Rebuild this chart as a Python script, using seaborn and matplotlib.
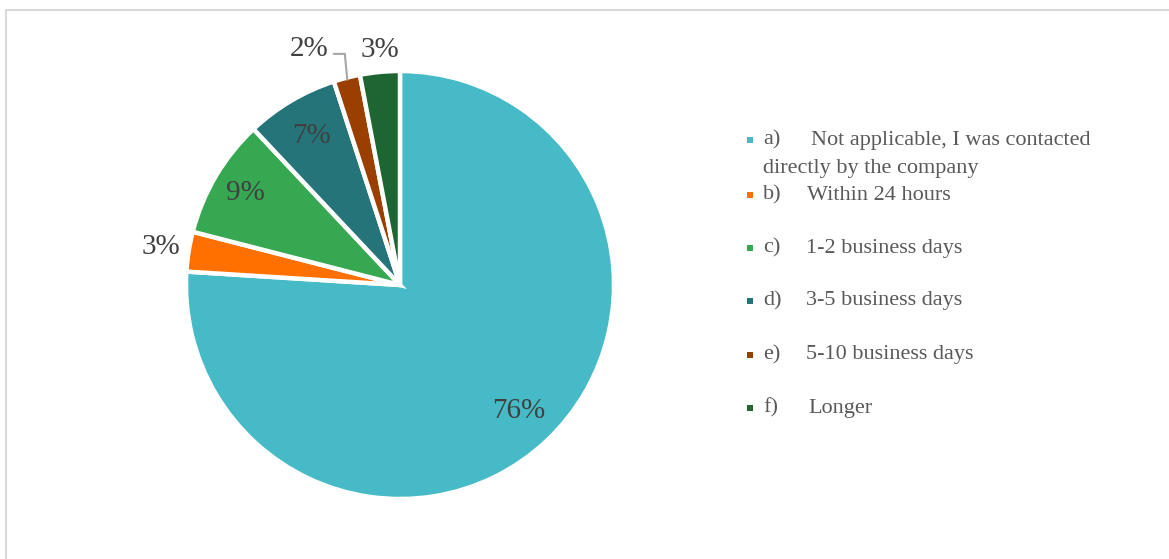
import matplotlib
matplotlib.use("Agg")
import matplotlib.pyplot as plt
from matplotlib.patches import Rectangle
from matplotlib.lines import Line2D
import numpy as np
import seaborn as sns

# Survey answers: how long until the company got back in touch
prefixes = ["a)", "b)", "c)", "d)", "e)", "f)"]
answers = [
    "Not applicable, I was contacted",
    "Within 24 hours",
    "1-2 business days",
    "3-5 business days",
    "5-10 business days",
    "Longer",
]
answer_a_second_line = "directly by the company"
shares = [76, 3, 9, 7, 2, 3]
colors = ["#46BBC7", "#FF7000", "#36A852", "#25747A", "#9A3F00", "#1E6631"]

sns.set_theme(style="white")
plt.rcParams["font.family"] = ["Liberation Serif", "DejaVu Serif"]

W, H = 1169, 559
fig = plt.figure(figsize=(W / 100, H / 100), dpi=100)

# pie axes: centre (400, 285) px, radius ~214 px
cx, cy, r = 400, 285, 214
ax = fig.add_axes([(cx - r) / W, (H - cy - r) / H, 2 * r / W, 2 * r / H])

wedges, _ = ax.pie(
    shares,
    colors=colors,
    startangle=90,
    counterclock=False,
    radius=1.0,
    wedgeprops=dict(edgecolor="white", linewidth=3.2),
)
ax.set_xlim(-1, 1)
ax.set_ylim(-1, 1)
ax.set_aspect("equal")
ax.axis("off")

# label placement: distance from centre along the wedge middle
label_dist = [0.81, 1.13, 0.84, 0.81, None, None]
pct_color = "#404040"
pct_size = 21
cum = np.cumsum([0] + shares)
total = sum(shares)
for i, s in enumerate(shares):
    mid = (cum[i] + s / 2) / total * 360.0  # clockwise from 12 o'clock
    th = np.deg2rad(mid)
    if label_dist[i] is not None:
        d = label_dist[i]
        ax.text(d * np.sin(th), d * np.cos(th), f"{s}%", ha="center", va="center",
                fontsize=pct_size, color=pct_color)

# small slices at the top get labels above the pie
th_e = np.deg2rad((cum[4] + shares[4] / 2) / total * 360.0)
ax.text(-0.425, 1.105, f"{shares[4]}%", ha="center", va="center",
        fontsize=pct_size, color=pct_color)
ax.plot([-0.31, -0.258, np.sin(th_e) * 0.99], [1.08, 1.08, np.cos(th_e) * 0.99],
        color="#A6A6A6", lw=1.5, solid_joinstyle="miter", clip_on=False)
ax.text(-0.094, 1.10, f"{shares[5]}%", ha="center", va="center",
        fontsize=pct_size, color=pct_color)

# legend
leg_color = "#595959"
leg_size = 16
row_y = [140, 195, 248, 301, 355, 408]
body_x = [811, 807, 806, 806, 806, 808]
for i in range(len(answers)):
    y = row_y[i]
    fig.patches.append(Rectangle((747 / W, 1 - (y + 3) / H), 6 / W, 6 / H,
                                 transform=fig.transFigure, facecolor=colors[i],
                                 edgecolor="none"))
    fig.text(763 / W, 1 - y / H, prefixes[i], ha="left", va="center",
             fontsize=leg_size, color=leg_color)
    fig.text(body_x[i] / W, 1 - y / H, answers[i], ha="left", va="center",
             fontsize=leg_size, color=leg_color)
fig.text(763 / W, 1 - 168 / H, answer_a_second_line, ha="left", va="center",
         fontsize=leg_size, color=leg_color)

# outer chart frame
fig.lines.append(Line2D([6 / W, 1.0], [1 - 10 / H, 1 - 10 / H],
                        transform=fig.transFigure, color="#D9D9D9", lw=1.5))
fig.lines.append(Line2D([6 / W, 6 / W], [0.0, 1 - 10 / H],
                        transform=fig.transFigure, color="#D9D9D9", lw=1.5))

fig.savefig("out.png", dpi=100, facecolor="white")
